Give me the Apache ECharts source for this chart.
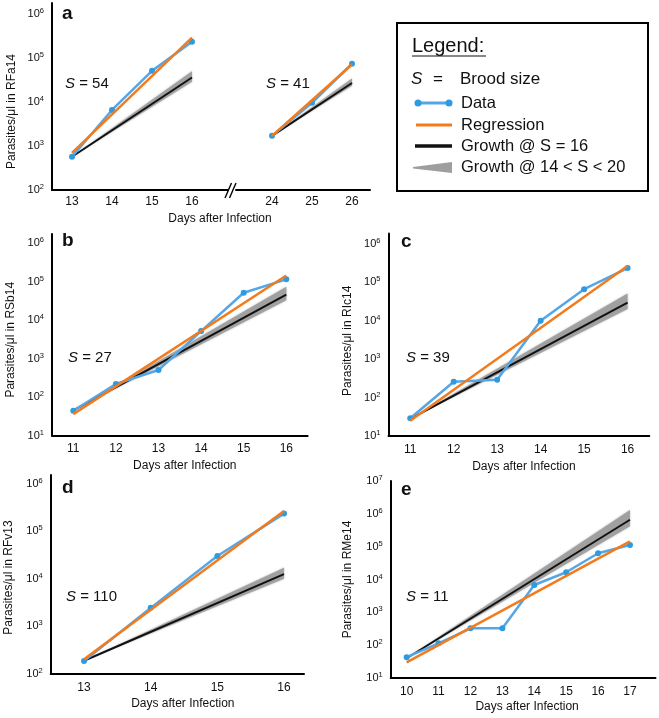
<!DOCTYPE html>
<html><head><meta charset="utf-8">
<script src="https://cdn.jsdelivr.net/npm/echarts@6/dist/echarts.min.js"></script>
<style>html,body{margin:0;padding:0;background:#fff}#c{width:659px;height:718px}</style>
</head><body><div id="c"></div>
<script>
const FONT = 'Liberation Sans, Arial, Helvetica, sans-serif';

// ---- Panel a (RFa14), two segments of the broken x axis ----
const daysA1 = [13, 14, 15, 16];
const parasitesA1 = [570, 6600, 51000, 235000];
const regressionA1 = [[13, 700], [16, 290000]];
const growthA1 = [[13, 570], [16, 36000]];
const bandA1 = [[13, 570, 570], [16, 29000, 50000]];

const daysA2 = [24, 25, 26];
const parasitesA2 = [1700, 9600, 74000];
const regressionA2 = [[24, 1700], [26, 71000]];
const growthA2 = [[24, 1700], [26, 27000]];
const bandA2 = [[24, 1700, 1700], [26, 23500, 34000]];

// ---- Panel b (RSb14) ----
const daysB = [11, 12, 13, 14, 15, 16];
const parasitesB = [44, 218, 505, 5200, 51500, 115000];
const regressionB = [[11, 36], [16, 145000]];
const growthB = [[11, 45], [16, 46000]];
const bandB = [[11, 45, 45], [16, 33000, 74000]];

// ---- Panel c (RIc14) ----
const daysC = [11, 12, 13, 14, 15, 16];
const parasitesC = [29, 257, 290, 9800, 65000, 230000];
const regressionC = [[11, 25], [16, 260000]];
const growthC = [[11, 28], [16, 29000]];
const bandC = [[11, 28, 28], [16, 20000, 50000]];

// ---- Panel d (RFv13) ----
const daysD = [13, 14, 15, 16];
const parasitesD = [187, 2450, 30000, 234000];
const regressionD = [[13, 205], [16, 265000]];
const growthD = [[13, 190], [16, 12500]];
const bandD = [[13, 190, 190], [16, 10000, 17000]];

// ---- Panel e (RMe14) ----
const daysE = [10, 11, 12, 13, 14, 15, 16, 17];
const parasitesE = [43, 114, 325, 325, 6800, 16600, 63000, 112000];
const regressionE = [[10, 30], [17, 145000]];
const growthE = [[10, 40], [17, 660000]];
const bandE = [[10, 40, 40], [17, 420000, 1300000]];

const brood = ['54', '41', '27', '39', '110', '11'];

const BLUE = '#55a6e6', DOT = '#2f9ae0', ORANGE = '#f27b1e', BLACK = '#111111', GRAY = '#9e9e9e';

const panels = [
  {left: 52, top: 3, width: 176, height: 187, xMin: 12.5, xMax: 16.9, ticks: daysA1, yMin: 100, yMax: Math.pow(10, 6.25),
   showY: true, yName: 'Parasites/\u03bcl in RFa14', yNameGap: 34, yNamePad: 30,
   xName: 'Days after Infection', xNameGap: 23, xNamePad: 160, labelMargin: 6,
   days: daysA1, vals: parasitesA1, reg: regressionA1, gro: growthA1, band: bandA1},
  {left: 236, top: 3, width: 134, height: 187, xMin: 23.1, xMax: 26.45, ticks: daysA2, yMin: 100, yMax: Math.pow(10, 6.25),
   showY: false, labelMargin: 6,
   days: daysA2, vals: parasitesA2, reg: regressionA2, gro: growthA2, band: bandA2},
  {left: 52, top: 234, width: 255.6, height: 201.5, xMin: 10.5, xMax: 16.5, ticks: daysB, yMin: 10, yMax: Math.pow(10, 6.24),
   showY: true, yName: 'Parasites/\u03bcl in RSb14', yNameGap: 35, yNamePad: 10,
   xName: 'Days after Infection', xNameGap: 24, xNamePad: 10, labelMargin: 7.5,
   days: daysB, vals: parasitesB, reg: regressionB, gro: growthB, band: bandB},
  {left: 388.5, top: 233.5, width: 260.8, height: 202.5, xMin: 10.5, xMax: 16.5, ticks: daysC, yMin: 10, yMax: Math.pow(10, 6.26),
   showY: true, yName: 'Parasites/\u03bcl in RIc14', yNameGap: 35, yNamePad: 12,
   xName: 'Days after Infection', xNameGap: 25, xNamePad: 10, labelMargin: 7.5,
   days: daysC, vals: parasitesC, reg: regressionC, gro: growthC, band: bandC},
  {left: 50.7, top: 475, width: 253.3, height: 199, xMin: 12.5, xMax: 16.3, ticks: daysD, yMin: 100, yMax: Math.pow(10, 6.18),
   showY: true, yName: 'Parasites/\u03bcl in RFv13', yNameGap: 36, yNamePad: 6,
   xName: 'Days after Infection', xNameGap: 24, xNamePad: 11, labelMargin: 8,
   days: daysD, vals: parasitesD, reg: regressionD, gro: growthD, band: bandD},
  {left: 390.7, top: 481, width: 264.8, height: 197, xMin: 9.5, xMax: 17.8, ticks: daysE, yMin: 10, yMax: 1e7,
   showY: true, yName: 'Parasites/\u03bcl in RMe14', yNameGap: 37, yNamePad: 0,
   xName: 'Days after Infection', xNameGap: 23, xNamePad: 8, labelMargin: 7.5,
   days: daysE, vals: parasitesE, reg: regressionE, gro: growthE, band: bandE}
];

const grids = [], xAxes = [], yAxes = [], series = [];

function yFmt(v) {
  const k = Math.log10(v);
  if (Math.abs(k - Math.round(k)) > 1e-6) return '';
  return '{b|10}{s|' + Math.round(k) + '}';
}

panels.forEach((p, i) => {
  grids.push({left: p.left, top: p.top, width: p.width, height: p.height, containLabel: false, outerBoundsMode: 'none'});
  const ticks = p.ticks;
  xAxes.push({
    type: 'value', gridIndex: i, min: p.xMin, max: p.xMax, interval: 0.1,
    axisLine: {onZero: false, lineStyle: {color: '#000', width: 2}},
    axisTick: {show: false}, splitLine: {show: false},
    axisLabel: {margin: p.labelMargin, fontSize: 12, fontFamily: FONT, color: '#111',
      formatter: v => ticks.some(t => Math.abs(t - v) < 1e-6) ? String(Math.round(v)) : ''},
    name: p.xName || '', nameLocation: 'middle', nameGap: p.xNameGap || 20,
    nameTextStyle: {fontSize: 12, fontFamily: FONT, color: '#111', padding: [0, 0, 0, p.xNamePad || 0]}
  });
  yAxes.push({
    type: 'log', logBase: 10, gridIndex: i, min: p.yMin, max: p.yMax, show: p.showY,
    axisLine: {show: true, lineStyle: {color: '#000', width: 2}},
    axisTick: {show: false}, splitLine: {show: false},
    axisLabel: {margin: 8, formatter: yFmt,
      rich: {b: {fontSize: 11, fontFamily: FONT, color: '#111', lineHeight: 14},
             s: {fontSize: 7.5, fontFamily: FONT, color: '#111', verticalAlign: 'top', lineHeight: 9}}},
    name: p.yName || '', nameLocation: 'middle', nameRotate: 90, nameGap: p.yNameGap || 30,
    nameTextStyle: {fontSize: 12, fontFamily: FONT, color: '#111', padding: [0, p.yNamePad || 0, 0, 0]}
  });
  const band = p.band;
  series.push({
    type: 'custom', name: 'Growth @ 14 < S < 20', xAxisIndex: i, yAxisIndex: i, z: 1, silent: true,
    data: band, encode: {x: 0, y: [1, 2]},
    renderItem: (params, api) => {
      if (params.dataIndex !== 0) return null;
      const top = band.map(b => api.coord([b[0], b[2]]));
      const bot = band.slice().reverse().map(b => api.coord([b[0], b[1]]));
      return {type: 'polygon', shape: {points: top.concat(bot)},
        style: {fill: GRAY, opacity: 0.92, shadowBlur: 2, shadowColor: 'rgba(150,150,150,0.8)'}};
    }
  });
  series.push({type: 'line', name: 'Growth @ S = 16', xAxisIndex: i, yAxisIndex: i, z: 2, data: p.gro,
    symbol: 'none', lineStyle: {color: BLACK, width: 2}, itemStyle: {color: BLACK}});
  series.push({type: 'line', name: 'Data', xAxisIndex: i, yAxisIndex: i, z: 3,
    data: p.days.map((d, j) => [d, p.vals[j]]),
    symbol: 'circle', symbolSize: 6, showSymbol: true,
    lineStyle: {color: BLUE, width: 2.5}, itemStyle: {color: DOT}});
  series.push({type: 'line', name: 'Regression', xAxisIndex: i, yAxisIndex: i, z: 4, data: p.reg,
    symbol: 'none', lineStyle: {color: ORANGE, width: 2.5}, itemStyle: {color: ORANGE}});
});

function txt(x, y, text, font, extra) {
  return Object.assign({type: 'text', x: x, y: y, z: 100, style: Object.assign({
    text: text, font: font, fill: '#111', textAlign: 'left', textVerticalAlign: 'middle',
    align: 'left', verticalAlign: 'middle'}, extra || {})});
}
function sLabel(x, y, n) {
  return txt(x, y, '{i|S} = ' + n, '15px ' + FONT,
    {rich: {i: {fontStyle: 'italic', fontSize: 15, fontFamily: FONT, fill: '#111'}}});
}
const letterFont = 'bold 19px ' + FONT;
const legFont = '16.5px ' + FONT;

const graphic = [
  // axis break mark
  {type: 'line', z: 100, shape: {x1: 225, y1: 198, x2: 231.5, y2: 183}, style: {stroke: '#000', lineWidth: 1.4}},
  {type: 'line', z: 100, shape: {x1: 229.5, y1: 198, x2: 236, y2: 183}, style: {stroke: '#000', lineWidth: 1.4}},
  // panel letters
  txt(62, 14, 'a', letterFont), txt(62, 241, 'b', letterFont), txt(401, 242, 'c', letterFont),
  txt(62, 488, 'd', letterFont), txt(401, 490, 'e', letterFont),
  // brood sizes
  sLabel(65, 84, brood[0]), sLabel(266, 84, brood[1]), sLabel(68, 358, brood[2]),
  sLabel(406, 358, brood[3]), sLabel(66, 597, brood[4]), sLabel(406, 597, brood[5]),
  // legend box
  {type: 'rect', z: 90, shape: {x: 397, y: 23, width: 251, height: 168}, style: {fill: '#fff', stroke: '#000', lineWidth: 2}},
  txt(412, 46, 'Legend:', '20px ' + FONT),
  {type: 'line', z: 100, shape: {x1: 412, y1: 56, x2: 486, y2: 56}, style: {stroke: '#111', lineWidth: 1.2}},
  txt(411, 79, 'S', 'italic 17px ' + FONT), txt(433, 79, '=', '17px ' + FONT), txt(460, 79, 'Brood size', '17px ' + FONT),
  {type: 'line', z: 100, shape: {x1: 418, y1: 103, x2: 449, y2: 103}, style: {stroke: BLUE, lineWidth: 3}},
  {type: 'circle', z: 101, shape: {cx: 418, cy: 103, r: 3.5}, style: {fill: DOT}},
  {type: 'circle', z: 101, shape: {cx: 449, cy: 103, r: 3.5}, style: {fill: DOT}},
  txt(461, 103, 'Data', legFont),
  {type: 'line', z: 100, shape: {x1: 416, y1: 125, x2: 452, y2: 125}, style: {stroke: ORANGE, lineWidth: 3}},
  txt(461, 125, 'Regression', legFont),
  {type: 'line', z: 100, shape: {x1: 415, y1: 146, x2: 452, y2: 146}, style: {stroke: BLACK, lineWidth: 3.5}},
  txt(461, 146, 'Growth @ S = 16', legFont),
  {type: 'polygon', z: 100, shape: {points: [[413, 167], [452, 162], [452, 173], [413, 168.5]]}, style: {fill: GRAY}},
  txt(461, 167, 'Growth @ 14 < S < 20', legFont)
];

const chart = echarts.init(document.getElementById('c'), null, {renderer: 'canvas'});
chart.setOption({
  animation: false,
  backgroundColor: '#fff',
  textStyle: {fontFamily: FONT},
  grid: grids, xAxis: xAxes, yAxis: yAxes, series: series, graphic: graphic
});
</script></body></html>
